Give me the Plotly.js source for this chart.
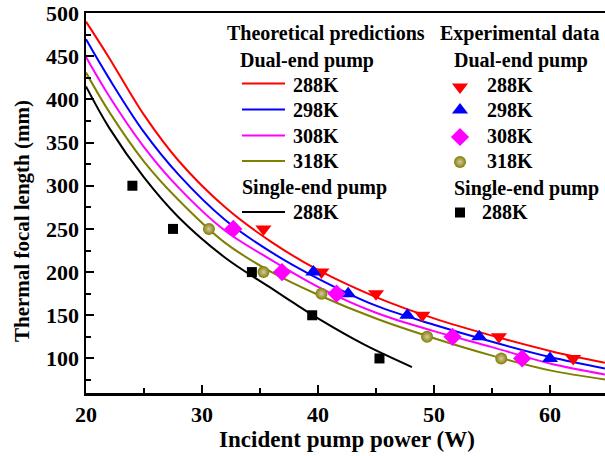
<!DOCTYPE html>
<html>
<head>
<meta charset="utf-8">
<script src="https://cdn.plot.ly/plotly-3.0.1.min.js"></script>
<style>
html,body{margin:0;padding:0;overflow:hidden;background:#fff;}
#chart{width:608px;height:456px;}
</style>
</head>
<body>
<div id="chart"></div>
<script>
// Theoretical prediction curves (dual-end pump)
const curveX = [20, 22, 25, 28, 32, 36, 40, 45, 50, 55, 60, 64.74];
const red288Y  = [490, 448, 382, 328.6, 275, 234.7, 202.5, 171.1, 146.4, 126.4, 108.7, 95];
const blue298Y = [469.5, 424, 362, 312.5, 260.3, 222.8, 192.5, 161.1, 139, 119.3, 101.7, 88.4];
const mag308Y  = [449, 403.6, 344.8, 297.5, 247.8, 213.9, 183, 152.9, 131.6, 113.1, 94.2, 81.5];
const olv318Y  = [431, 385.5, 328, 283.2, 233.8, 200, 173.8, 146.2, 123.4, 103.3, 86.2, 75.7];
// Theoretical prediction curve (single-end pump)
const blk288X = [20, 22, 25, 28, 32, 36, 38, 40, 44, 48.1];
const blk288Y = [415, 367, 309.6, 263.2, 216.6, 181.1, 163.5, 146.3, 115.9, 90];

// Experimental data
const expRedX = [35.3, 40.3, 45.0, 49.0, 55.6, 62.0];
const expRedY = [250, 200, 175, 150, 125, 100];
const expBlueX = [39.6, 42.6, 47.7, 53.9, 60.0];
const expBlueY = [200, 175, 150, 125, 100];
const expMagX = [32.7, 36.9, 41.6, 51.6, 57.6];
const expMagY = [250, 200, 175, 125, 100];
const expOlvX = [30.6, 35.3, 40.3, 49.4, 55.8];
const expOlvY = [250, 200, 175, 125, 100];
const expBlkX = [24.0, 27.5, 34.3, 39.5, 45.3];
const expBlkY = [300, 250, 200, 150, 100];

// Legend labels
const theoLabels = ["288K", "298K", "308K", "318K"];
const expLabels = ["288K", "298K", "308K", "318K"];
const singleLabel = "288K";

const FONT = "Liberation Serif, Times New Roman, serif";
const RED = "#ff0000", BLUE = "#0000ff", MAG = "#ff00ff", OLV = "#808000", BLK = "#000000";

function curve(x, y, c) {
  return {x: x, y: y, type: "scatter", mode: "lines", line: {color: c, width: 2, shape: "spline", smoothing: 1}, hoverinfo: "skip"};
}
function pts(x, y, sym, c, sz, extra) {
  const m = Object.assign({symbol: sym, color: c, size: sz, line: {width: 0}}, extra || {});
  return {x: x, y: y, type: "scatter", mode: "markers", marker: m, hoverinfo: "skip"};
}
const olvGrad = {gradient: {type: "radial", color: "#d8c8a8"}};

const traces = [
  curve(curveX, red288Y, RED),
  curve(curveX, blue298Y, BLUE),
  curve(curveX, mag308Y, MAG),
  curve(curveX, olv318Y, OLV),
  curve(blk288X, blk288Y, BLK),
  pts(expRedX, expRedY, "triangle-down", RED, 14),
  pts(expBlueX, expBlueY, "triangle-up", BLUE, 14),
  pts(expMagX, expMagY, "diamond", MAG, 14),
  pts(expOlvX, expOlvY, "circle", OLV, 12, olvGrad),
  pts(expBlkX, expBlkY, "square", BLK, 10)
];

// Legend (overlay axis in pixel units of the plot area)
const legMarkY = [87, 110, 137, 162];
const legSyms = ["triangle-down", "triangle-up", "diamond", "circle"];
const legCols = [RED, BLUE, MAG, OLV];
for (let i = 0; i < 4; i++) {
  const isC = legSyms[i] === "circle";
  const t = pts([460], [legMarkY[i]], legSyms[i], legCols[i], isC ? 12 : 14, isC ? olvGrad : null);
  t.xaxis = "x2"; t.yaxis = "y2";
  traces.push(t);
}
{
  const t = pts([460], [212.5], "square", BLK, 10);
  t.xaxis = "x2"; t.yaxis = "y2";
  traces.push(t);
}

const shapes = [];
const lineY = [83.5, 109.5, 135.5, 161];
const lineCols = [RED, BLUE, MAG, OLV];
for (let i = 0; i < 4; i++) {
  shapes.push({type: "line", xref: "x2", yref: "y2", x0: 242, x1: 285, y0: lineY[i], y1: lineY[i], line: {color: lineCols[i], width: 2}});
}
shapes.push({type: "line", xref: "x2", yref: "y2", x0: 242, x1: 285, y0: 212, y1: 212, line: {color: BLK, width: 2}});

function ann(text, x, y) {
  return {text: text, x: x, y: y, xref: "x2", yref: "y2", xanchor: "left", yanchor: "middle", showarrow: false,
          font: {family: FONT, size: 20, color: "#000", weight: "bold"}};
}
const annotations = [
  ann("Theoretical predictions", 225, 33),
  ann("Dual-end pump", 238, 60),
  ann("Single-end pump", 240, 187),
  ann("Experimental data", 438, 33),
  ann("Dual-end pump", 452, 60),
  ann("Single-end pump", 452, 188)
];
const textY = [85, 110, 136, 161];
for (let i = 0; i < 4; i++) {
  annotations.push(ann(theoLabels[i], 291, textY[i]));
  annotations.push(ann(expLabels[i], 485, textY[i]));
}
annotations.push(ann(singleLabel, 291, 212));
annotations.push(ann(singleLabel, 480, 212));
// y-axis title (placed as in the reference, below the plot centre)
annotations.push({text: "Thermal focal length (mm)", xref: "paper", yref: "paper", x: -0.1226, y: 0.4526,
  xanchor: "center", yanchor: "middle", textangle: -90, showarrow: false,
  font: {family: FONT, size: 21, color: "#000", weight: "bold"}});

const layout = {
  width: 608, height: 456,
  margin: {l: 86, r: 0, t: 13, b: 63, pad: 0},
  paper_bgcolor: "#fff", plot_bgcolor: "#fff",
  showlegend: false,
  font: {family: FONT, size: 22, color: "#000", weight: "bold"},
  xaxis: {
    range: [20, 65], tickmode: "linear", tick0: 20, dtick: 10,
    ticks: "inside", ticklen: 8, tickwidth: 2, tickcolor: "#000",
    minor: {dtick: 5, tick0: 20, ticks: "inside", ticklen: 5, tickwidth: 2, tickcolor: "#000"},
    showline: true, linewidth: 2.5, linecolor: "#000", mirror: true,
    showgrid: false, zeroline: false,
    tickfont: {family: FONT, size: 22, weight: "bold"},
    title: {text: "Incident pump power (W)", font: {family: FONT, size: 23, weight: "bold"}, standoff: 5}
  },
  yaxis: {
    range: [60, 500], tickmode: "linear", tick0: 100, dtick: 50,
    ticks: "inside", ticklen: 8, tickwidth: 2, tickcolor: "#000",
    minor: {dtick: 25, tick0: 75, ticks: "inside", ticklen: 5, tickwidth: 2, tickcolor: "#000"},
    showline: true, linewidth: 2.5, linecolor: "#000", mirror: true,
    showgrid: false, zeroline: false,
    tickfont: {family: FONT, size: 22, weight: "bold"}
  },
  xaxis2: {overlaying: "x", range: [86, 608], visible: false, anchor: "y2"},
  yaxis2: {overlaying: "y", range: [393, 13], visible: false, anchor: "x2"},
  shapes: shapes,
  annotations: annotations
};

Plotly.newPlot("chart", traces, layout, {staticPlot: true, displayModeBar: false});
</script>
</body>
</html>
